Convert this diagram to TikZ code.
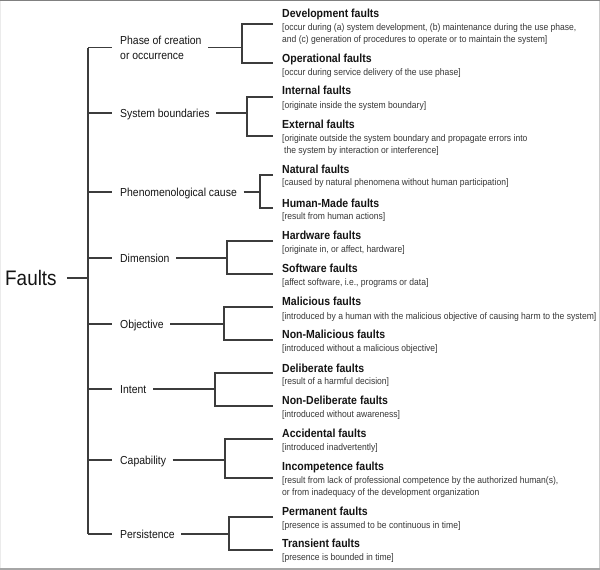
\documentclass[tikz,border=0pt]{standalone}
\usepackage{fontspec}
\setmainfont{Liberation Sans}[FakeStretch=0.9]
\definecolor{wiregray}{HTML}{3C3C3C}
\definecolor{inkcol}{HTML}{141414}
\begin{document}
\begin{tikzpicture}[x=1pt,y=-1pt,
  wire/.style={draw=wiregray, line width=1.1pt},
  rootlabel/.style={font=\fontsize{21}{24}\selectfont, text=inkcol, inner sep=0pt,
    text height=15pt, text depth=0pt, anchor=west},
  catlabel/.style={font=\fontsize{11.6}{15}\selectfont, text=inkcol, inner xsep=8pt, inner ysep=0pt,
    text height=8.3pt, text depth=0pt, anchor=west},
  leaftitle/.style={font=\bfseries\fontsize{11.7}{14}\selectfont, text=inkcol, inner sep=0pt,
    text height=8.4pt, text depth=0pt, anchor=west},
  leafnote/.style={font=\fontsize{9.5}{12}\selectfont, text=inkcol!85, inner sep=0pt,
    text height=6.8pt, text depth=0pt, anchor=west},
]
\useasboundingbox (0,0) rectangle (600,570);

% frame
\fill[black!8]  (0,0) rectangle (1,570);
\fill[black!20] (598.8,0) rectangle (600,570);
\fill[black!50] (0,0) rectangle (600,1.3);
\fill[black!35] (0,567.6) rectangle (600,570);

% root
\node[rootlabel] (faults) at (5,278) {Faults};
\coordinate (tr) at (88,278);

% categories
\node[catlabel, align=left, text height=, text depth=] (phase) at (112,47.5) {Phase of creation\\or occurrence};
\node[catlabel] (sysb)    at (112,113) {System boundaries};
\node[catlabel] (phen)    at (112,192) {Phenomenological cause};
\node[catlabel] (dim)     at (112,258) {Dimension};
\node[catlabel] (obj)     at (112,324) {Objective};
\node[catlabel] (intent)  at (112,389) {Intent};
\node[catlabel] (capab)   at (112,460) {Capability};
\node[catlabel] (persist) at (112,534) {Persistence};

% junction points of the second level
\coordinate (phase-j)   at (242,47);
\coordinate (sysb-j)    at (247,113);
\coordinate (phen-j)    at (260,192);
\coordinate (dim-j)     at (227,258);
\coordinate (obj-j)     at (224,324);
\coordinate (intent-j)  at (215,389);
\coordinate (capab-j)   at (225,460);
\coordinate (persist-j) at (229,534);

% leaves: title and description
\node[leaftitle] (dev)  at (282,13)  {Development faults};
\node[leafnote]  (dev-n1) at (282,27.5) {[occur during (a) system development, (b) maintenance during the use phase,};
\node[leafnote]  (dev-n2) at (282,39.5) {and (c) generation of procedures to operate or to maintain the system]};
\node[leaftitle] (op)   at (282,58)  {Operational faults};
\node[leafnote]  (op-n) at (282,72.5) {[occur during service delivery of the use phase]};

\node[leaftitle] (int)   at (282,90)  {Internal faults};
\node[leafnote]  (int-n) at (282,105) {[originate inside the system boundary]};
\node[leaftitle] (ext)   at (282,124) {External faults};
\node[leafnote]  (ext-n1) at (282,138) {[originate outside the system boundary and propagate errors into};
\node[leafnote]  (ext-n2) at (284,150) {the system by interaction or interference]};

\node[leaftitle] (nat)   at (282,169.5) {Natural faults};
\node[leafnote]  (nat-n) at (282,182) {[caused by natural phenomena without human participation]};
\node[leaftitle] (hum)   at (282,203) {Human-Made faults};
\node[leafnote]  (hum-n) at (282,216) {[result from human actions]};

\node[leaftitle] (hw)   at (282,235) {Hardware faults};
\node[leafnote]  (hw-n) at (282,249.5) {[originate in, or affect, hardware]};
\node[leaftitle] (sw)   at (282,268) {Software faults};
\node[leafnote]  (sw-n) at (282,282) {[affect software, i.e., programs or data]};

\node[leaftitle] (mal)   at (282,301.5) {Malicious faults};
\node[leafnote]  (mal-n) at (282,316) {[introduced by a human with the malicious objective of causing harm to the system]};
\node[leaftitle] (nmal)   at (282,334) {Non-Malicious faults};
\node[leafnote]  (nmal-n) at (282,348) {[introduced without a malicious objective]};

\node[leaftitle] (del)   at (282,368) {Deliberate faults};
\node[leafnote]  (del-n) at (282,381.5) {[result of a harmful decision]};
\node[leaftitle] (ndel)   at (282,400) {Non-Deliberate faults};
\node[leafnote]  (ndel-n) at (282,414) {[introduced without awareness]};

\node[leaftitle] (acc)   at (282,433) {Accidental faults};
\node[leafnote]  (acc-n) at (282,447) {[introduced inadvertently]};
\node[leaftitle] (inc)   at (282,466) {Incompetence faults};
\node[leafnote]  (inc-n1) at (282,480) {[result from lack of professional competence by the authorized human(s),};
\node[leafnote]  (inc-n2) at (282,492) {or from inadequacy of the development organization};

\node[leaftitle] (perm)   at (282,511.5) {Permanent faults};
\node[leafnote]  (perm-n) at (282,525) {[presence is assumed to be continuous in time]};
\node[leaftitle] (trans)   at (282,543) {Transient faults};
\node[leafnote]  (trans-n) at (282,557) {[presence is bounded in time]};

% stub ends next to the leaves
\coordinate (dev-s)   at (273,24);
\coordinate (op-s)    at (273,63);
\coordinate (int-s)   at (273,97);
\coordinate (ext-s)   at (273,136);
\coordinate (nat-s)   at (273,175);
\coordinate (hum-s)   at (273,208);
\coordinate (hw-s)    at (273,241);
\coordinate (sw-s)    at (273,274);
\coordinate (mal-s)   at (273,307);
\coordinate (nmal-s)  at (273,340);
\coordinate (del-s)   at (273,373);
\coordinate (ndel-s)  at (273,406);
\coordinate (acc-s)   at (273,439);
\coordinate (inc-s)   at (273,478);
\coordinate (perm-s)  at (273,517);
\coordinate (trans-s) at (273,550);

% first level: root to categories
\draw[wire] ([xshift=10pt]faults.east) -- (faults.east -| tr);
\draw[wire] (phase.west -| tr) -- (persist.west -| tr);
\foreach \c in {phase,sysb,phen,dim,obj,intent,capab,persist}
  \draw[wire] (\c.west -| tr) -- (\c.west);

% second level: categories to leaves
\foreach \c/\a/\b in {phase/dev/op, sysb/int/ext, phen/nat/hum, dim/hw/sw,
                      obj/mal/nmal, intent/del/ndel, capab/acc/inc, persist/perm/trans}{
  \draw[wire] ([xshift=-1.5pt]\c.east) -- (\c.east -| \c-j);
  \draw[wire] (\a-s) -| (\c-j) |- (\b-s);
}
\end{tikzpicture}
\end{document}
